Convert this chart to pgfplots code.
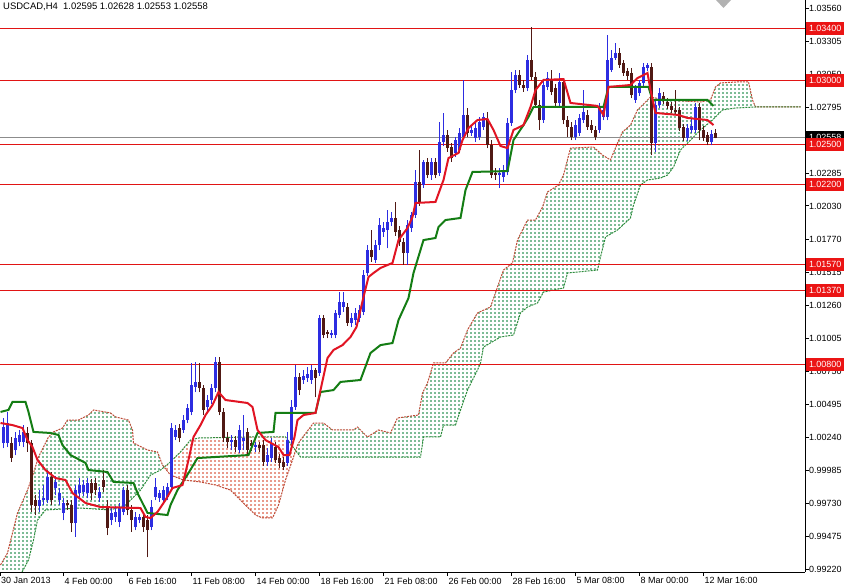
\documentclass[border=0pt]{standalone}
\usepackage{fontspec}
\setmainfont{Liberation Sans}
\usepackage{pgfplots}
\pgfplotsset{compat=1.18}
\usepackage{pgfplotstable}
\definecolor{bullc}{RGB}{45,45,225}
\definecolor{bearo}{RGB}{80,25,20}
\definecolor{tenk}{RGB}{225,20,35}
\definecolor{kij}{RGB}{20,125,20}
\definecolor{spa}{RGB}{190,75,55}
\definecolor{spb}{RGB}{45,140,60}
\definecolor{cldg}{RGB}{125,188,150}
\definecolor{cldr}{RGB}{232,155,140}
\definecolor{lvl}{RGB}{225,20,20}
\definecolor{labred}{RGB}{235,20,20}
\definecolor{curg}{RGB}{140,140,140}
\pgfplotsset{candle/.style={only marks, mark=none, mark size=0pt, mark options={draw=none, fill=none}, forget plot}}
\pgfplotstableread{
i o h l c
-15 1.00195 1.00389 1.00156 1.00319
-14 1.00195 1.00436 1.00164 1.00350
-13 1.00195 1.00242 1.00049 1.00079
-12 1.00141 1.00281 1.00102 1.00234
-11 1.00203 1.00296 1.00172 1.00257
-10 1.00203 1.00334 1.00164 1.00281
-9 1.00273 1.00319 1.00126 1.00195
-8 1.00195 1.00218 0.99662 0.99715
-7 0.99754 0.99792 0.99638 0.99708
-6 0.99708 0.99831 0.99662 0.99754
-5 0.99754 0.99870 0.99715 0.99769
-4 0.99754 0.99986 0.99731 0.99932
-3 0.99932 0.99971 0.99715 0.99754
-2 0.99847 0.99940 0.99792 0.99894
-1 0.99754 0.99847 0.99715 0.99808
0 0.99654 0.99769 0.99599 0.99731
1 0.99731 0.99754 0.99677 0.99715
2 0.99715 0.99754 0.99507 0.99576
3 0.99576 0.99870 0.99468 0.99831
4 0.99808 0.99924 0.99769 0.99870
5 0.99816 0.99909 0.99785 0.99870
6 0.99808 0.99924 0.99769 0.99886
7 0.99886 0.99916 0.99754 0.99808
8 0.99886 0.99924 0.99792 0.99831
9 0.99769 0.99855 0.99739 0.99816
10 0.99909 0.99986 0.99816 0.99855
11 0.99700 0.99754 0.99483 0.99537
12 0.99599 0.99692 0.99560 0.99654
13 0.99623 0.99708 0.99584 0.99662
14 0.99584 0.99731 0.99545 0.99700
15 0.99662 0.99855 0.99638 0.99831
16 0.99831 0.99870 0.99638 0.99677
17 0.99677 0.99715 0.99507 0.99599
18 0.99545 0.99662 0.99522 0.99623
19 0.99599 0.99646 0.99576 0.99623
20 0.99623 0.99662 0.99507 0.99545
21 0.99599 0.99638 0.99313 0.99522
22 0.99545 0.99754 0.99522 0.99700
23 0.99777 0.99924 0.99754 0.99855
24 0.99769 0.99831 0.99739 0.99808
25 0.99754 0.99863 0.99723 0.99831
26 0.99777 0.99886 0.99754 0.99855
27 0.99855 1.00350 0.99831 1.00311
28 1.00242 1.00334 1.00218 1.00296
29 1.00311 1.00342 1.00203 1.00234
30 1.00296 1.00412 1.00273 1.00373
31 1.00373 1.00497 1.00350 1.00466
32 1.00436 1.00815 1.00412 1.00644
33 1.00629 1.00823 1.00590 1.00668
34 1.00668 1.00815 1.00590 1.00621
35 1.00621 1.00644 1.00412 1.00451
36 1.00474 1.00566 1.00436 1.00528
37 1.00528 1.00652 1.00497 1.00621
38 1.00621 1.00861 1.00590 1.00823
39 1.00823 1.00861 1.00412 1.00436
40 1.00436 1.00466 1.00203 1.00234
41 1.00234 1.00281 1.00156 1.00203
42 1.00203 1.00257 1.00141 1.00218
43 1.00218 1.00250 1.00126 1.00164
44 1.00141 1.00334 1.00118 1.00296
45 1.00210 1.00412 1.00141 1.00234
46 1.00281 1.00311 1.00102 1.00141
47 1.00195 1.00218 1.00133 1.00172
48 1.00164 1.00203 1.00126 1.00179
49 1.00179 1.00203 1.00126 1.00156
50 1.00179 1.00218 1.00018 1.00049
51 1.00049 1.00156 1.00018 1.00102
52 1.00079 1.00234 1.00049 1.00195
53 1.00164 1.00203 1.00041 1.00064
54 1.00079 1.00110 1.00002 1.00041
55 1.00049 1.00087 0.99986 1.00010
56 1.00041 1.00281 1.00018 1.00218
57 1.00218 1.00528 1.00187 1.00474
58 1.00474 1.00799 1.00451 1.00706
59 1.00706 1.00737 1.00566 1.00605
60 1.00683 1.00760 1.00652 1.00714
61 1.00698 1.00784 1.00668 1.00729
62 1.00683 1.00799 1.00652 1.00760
63 1.00760 1.00776 1.00551 1.00698
64 1.00737 1.01186 1.00714 1.01163
65 1.01163 1.01186 1.01008 1.01031
66 1.01055 1.01070 1.01008 1.01039
67 1.01031 1.01070 1.01008 1.01047
68 1.01031 1.01225 1.01008 1.01202
69 1.01186 1.01364 1.01163 1.01287
70 1.01248 1.01364 1.01210 1.01287
71 1.01248 1.01279 1.01101 1.01124
72 1.01124 1.01202 1.01093 1.01163
73 1.01147 1.01240 1.01108 1.01202
74 1.01163 1.01263 1.01132 1.01225
75 1.01210 1.01534 1.01186 1.01495
76 1.01511 1.01727 1.01488 1.01689
77 1.01689 1.01844 1.01597 1.01635
78 1.01612 1.01766 1.01589 1.01727
79 1.01727 1.01937 1.01689 1.01882
80 1.01829 1.01906 1.01790 1.01859
81 1.01844 1.01999 1.01704 1.01906
82 1.01906 1.01984 1.01875 1.01937
83 1.01937 1.02061 1.01798 1.01829
84 1.01844 1.01875 1.01720 1.01751
85 1.01751 1.01782 1.01573 1.01666
86 1.01666 1.01921 1.01573 1.01882
87 1.01859 1.01984 1.01829 1.01960
88 1.01960 1.02308 1.01937 1.02216
89 1.02216 1.02463 1.02030 1.02061
90 1.02192 1.02386 1.02169 1.02371
91 1.02371 1.02401 1.02246 1.02269
92 1.02269 1.02401 1.02231 1.02371
93 1.02371 1.02401 1.02246 1.02269
94 1.02285 1.02680 1.02262 1.02525
95 1.02525 1.02750 1.02494 1.02579
96 1.02579 1.02618 1.02448 1.02478
97 1.02486 1.02517 1.02371 1.02401
98 1.02440 1.02564 1.02409 1.02540
99 1.02463 1.02633 1.02440 1.02595
100 1.02564 1.03005 1.02540 1.02734
101 1.02734 1.02788 1.02564 1.02595
102 1.02595 1.02656 1.02572 1.02618
103 1.02556 1.02672 1.02525 1.02633
104 1.02564 1.02719 1.02540 1.02680
105 1.02641 1.02750 1.02618 1.02719
106 1.02695 1.02758 1.02478 1.02501
107 1.02501 1.02540 1.02246 1.02269
108 1.02285 1.02324 1.02231 1.02269
109 1.02269 1.02324 1.02169 1.02285
110 1.02254 1.02347 1.02216 1.02293
111 1.02293 1.02711 1.02269 1.02672
112 1.02672 1.03067 1.02649 1.02927
113 1.02927 1.03082 1.02904 1.03043
114 1.03043 1.03082 1.02943 1.02966
115 1.02966 1.03005 1.02912 1.02943
116 1.02943 1.03198 1.02919 1.03160
117 1.03160 1.03415 1.03005 1.03028
118 1.03028 1.03067 1.02788 1.02811
119 1.02811 1.02850 1.02618 1.02695
120 1.02695 1.03005 1.02672 1.02966
121 1.02951 1.03067 1.02927 1.03020
122 1.03005 1.03082 1.02888 1.02912
123 1.02943 1.02974 1.02804 1.02827
124 1.02827 1.03059 1.02804 1.02990
125 1.02990 1.03020 1.02664 1.02695
126 1.02695 1.02727 1.02564 1.02641
127 1.02641 1.02680 1.02540 1.02564
128 1.02564 1.02695 1.02540 1.02656
129 1.02595 1.02742 1.02572 1.02711
130 1.02695 1.02927 1.02672 1.02758
131 1.02734 1.02773 1.02618 1.02641
132 1.02656 1.02695 1.02595 1.02618
133 1.02618 1.02649 1.02540 1.02564
134 1.02618 1.02827 1.02595 1.02796
135 1.02719 1.02804 1.02695 1.02773
136 1.02719 1.03353 1.02695 1.03160
137 1.03082 1.03237 1.03067 1.03175
138 1.03175 1.03291 1.03160 1.03214
139 1.03214 1.03252 1.03098 1.03121
140 1.03137 1.03160 1.03036 1.03059
141 1.03074 1.03098 1.03005 1.03036
142 1.03059 1.03098 1.02865 1.02888
143 1.02850 1.02966 1.02827 1.02943
144 1.02904 1.03005 1.02881 1.02982
145 1.02982 1.03137 1.02959 1.03106
146 1.03098 1.03137 1.03074 1.03121
147 1.03106 1.03137 1.02424 1.02517
148 1.02517 1.02850 1.02448 1.02811
149 1.02811 1.02943 1.02788 1.02904
150 1.02881 1.02912 1.02819 1.02842
151 1.02835 1.02865 1.02780 1.02804
152 1.02804 1.02835 1.02750 1.02773
153 1.02773 1.02927 1.02742 1.02758
154 1.02773 1.02796 1.02610 1.02633
155 1.02641 1.02664 1.02532 1.02556
156 1.02556 1.02664 1.02532 1.02633
157 1.02618 1.02711 1.02595 1.02649
158 1.02618 1.02827 1.02595 1.02796
159 1.02796 1.02827 1.02540 1.02618
160 1.02618 1.02649 1.02532 1.02556
161 1.02579 1.02603 1.02501 1.02525
162 1.02525 1.02618 1.02501 1.02587
163 1.02595 1.02628 1.02553 1.02558
}\candles
\begin{document}
\begin{tikzpicture}
\begin{axis}[
  at={(0bp,15bp)}, anchor=south west,
  scale only axis, width=805bp, height=572bp,
  xmin=-15.875, xmax=185.375, ymin=0.99197, ymax=1.03624,
  every non boxed x axis/.style={}, every non boxed y axis/.style={},
  axis x line=bottom, axis y line=right,
  axis line style={black, line width=1bp, -},
  x axis line style={yshift=-0.5bp}, y axis line style={xshift=0.5bp},
  xtick align=outside, ytick align=outside, major tick length=4bp,
  tick style={black, line width=1bp},
  xtick={-15.875,0,16,32,48,64,80,96,112,128,144,160},
  xticklabels={30 Jan 2013,4 Feb 00:00,6 Feb 16:00,11 Feb 08:00,14 Feb 00:00,18 Feb 16:00,21 Feb 08:00,26 Feb 00:00,28 Feb 16:00,5 Mar 08:00,8 Mar 00:00,12 Mar 16:00},
  ytick={1.0356,1.03305,1.0305,1.02795,1.02285,1.0203,1.0177,1.01515,1.0126,1.01005,1.0075,1.00495,1.0024,0.99985,0.9973,0.99475,0.9922},
  yticklabels={1.03560,1.03305,1.03050,1.02795,1.02285,1.02030,1.01770,1.01515,1.01260,1.01005,1.00750,1.00495,1.00240,0.99985,0.99730,0.99475,0.99220},
  xticklabel style={anchor=north west, inner sep=0pt, xshift=1bp, yshift=-1.5bp, font=\fontsize{9}{10}\selectfont},
  yticklabel style={anchor=west, inner sep=0pt, font=\fontsize{9}{10}\selectfont},
  scaled y ticks=false, scaled x ticks=false,
]
% Kumo: region between Senkou span A and span B (bullish green, bearish red)
\addplot[fill=cldg, draw=none, forget plot] coordinates {
(-15.75,0.99251) (-14,0.99344) (-11.5,0.99654) (-9,0.99831) (-7.5,0.99963) (-6.25,1.00087) (-5,1.00164) (-3.75,1.00242) (-2.5,1.00281) (-0.25,1.00311) (1,1.00373) (3.75,1.00373) (6.25,1.00412) (7.5,1.00451) (11.75,1.00428) (13,1.00397) (16.25,1.00373) (17.25,1.00296) (17.5,1.00195) (21,1.00141) (23.5,1.00126) (24.75,1.00025) (25.16,1.00009)
(24.25,0.99986) (21.75,0.99947) (19.25,0.99831) (15.5,0.99715) (11.75,0.99677) (4.25,0.99692) (-4.5,0.99677) (-6.5,0.99599) (-7.5,0.99444) (-8.75,0.99290) (-10.75,0.99174) (-15.75,0.99135)} -- cycle;
\addplot[fill=cldr, draw=none, forget plot] coordinates {
(25.16,1.00009) (26.75,0.99947) (30,0.99909) (34.25,0.99894) (38,0.99870) (41.75,0.99831) (45.5,0.99715) (48,0.99638) (49.75,0.99615) (52.25,0.99615) (53.75,0.99715) (55.5,0.99909) (57.25,1.00064) (58.04,1.00137)
(55.5,1.00242) (46.75,1.00242) (33.75,1.00234) (31.75,1.00218) (29.25,1.00126) (26.75,1.00049)} -- cycle;
\addplot[fill=cldg, draw=none, forget plot] coordinates {
(58.04,1.00137) (58.5,1.00179) (59.25,1.00218) (62.5,1.00350) (65,1.00350) (67.25,1.00296) (72.5,1.00296) (73.5,1.00319) (76,1.00242) (78.75,1.00296) (81.75,1.00273) (83.5,1.00389) (88.75,1.00412) (89.75,1.00582) (91,1.00660) (92.5,1.00815) (95.5,1.00815) (97.5,1.00892) (99.25,1.00930) (101,1.01070) (103.5,1.01202) (106.75,1.01248) (108.5,1.01403) (110,1.01534) (112.25,1.01589) (113.5,1.01766) (116,1.01921) (118,1.01921) (119.75,1.02022) (121,1.02138) (123.75,1.02192) (125,1.02269) (126.75,1.02478) (132.5,1.02486) (134.75,1.02424) (136.75,1.02386) (138.5,1.02517) (139.75,1.02603) (141.75,1.02656) (143.5,1.02773) (146.75,1.02873) (150.5,1.02850) (159.25,1.02835) (161.75,1.02850) (163,1.02951) (164.25,1.02982) (168.5,1.02990) (171.25,1.02990) (172.25,1.02850) (173,1.02796)
(168,1.02788) (164.75,1.02773) (162.25,1.02695) (159.25,1.02618) (156.75,1.02540) (154.25,1.02463) (152.5,1.02331) (151,1.02269) (149.25,1.02246) (146,1.02231) (144.25,1.02192) (142.5,1.02037) (141.75,1.01937) (138.5,1.01844) (135.5,1.01790) (134.25,1.01635) (133.5,1.01534) (126,1.01511) (125,1.01395) (120,1.01364) (118.5,1.01279) (116,1.01248) (114.25,1.01202) (112.5,1.01031) (109.25,1.01016) (105,1.00938) (104.25,1.00815) (103.5,1.00760) (101,1.00605) (99.25,1.00451) (98,1.00334) (95,1.00334) (94.25,1.00242) (90,1.00242) (89.25,1.00087) (59.25,1.00087)} -- cycle;
% white mask turning the solid kumo into dotted vertical hatching (one column per bar)
\pgfplotsinvokeforeach{0,...,200}{\fill[white] ([xshift=#1*4bp]rel axis cs:0,0) rectangle ([xshift=#1*4bp+2bp]rel axis cs:0,1);}
\pgfplotsinvokeforeach{0,...,142}{\fill[white] ([yshift=#1*4bp]rel axis cs:0,0) rectangle ([yshift=#1*4bp+2bp]rel axis cs:1,0);}
% Senkou span lines
\addplot[spa, line width=1bp, dash pattern=on 2bp off 1bp, forget plot] coordinates {
(-15.75,0.99251) (-14,0.99344) (-11.5,0.99654) (-9,0.99831) (-7.5,0.99963) (-6.25,1.00087) (-5,1.00164) (-3.75,1.00242) (-2.5,1.00281) (-0.25,1.00311) (1,1.00373) (3.75,1.00373) (6.25,1.00412) (7.5,1.00451) (11.75,1.00428) (13,1.00397) (16.25,1.00373) (17.25,1.00296) (17.5,1.00195) (21,1.00141) (23.5,1.00126) (24.75,1.00025) (26.75,0.99947) (30,0.99909) (34.25,0.99894) (38,0.99870) (41.75,0.99831) (45.5,0.99715) (48,0.99638) (49.75,0.99615) (52.25,0.99615) (53.75,0.99715) (55.5,0.99909) (57.25,1.00064) (58.5,1.00179) (59.25,1.00218) (62.5,1.00350) (65,1.00350) (67.25,1.00296) (72.5,1.00296) (73.5,1.00319) (76,1.00242) (78.75,1.00296) (81.75,1.00273) (83.5,1.00389) (88.75,1.00412) (89.75,1.00582) (91,1.00660) (92.5,1.00815) (95.5,1.00815) (97.5,1.00892) (99.25,1.00930) (101,1.01070) (103.5,1.01202) (106.75,1.01248) (108.5,1.01403) (110,1.01534) (112.25,1.01589) (113.5,1.01766) (116,1.01921) (118,1.01921) (119.75,1.02022) (121,1.02138) (123.75,1.02192) (125,1.02269) (126.75,1.02478) (132.5,1.02486) (134.75,1.02424) (136.75,1.02386) (138.5,1.02517) (139.75,1.02603) (141.75,1.02656) (143.5,1.02773) (146.75,1.02873) (150.5,1.02850) (159.25,1.02835) (161.75,1.02850) (163,1.02951) (164.25,1.02982) (168.5,1.02990) (171.25,1.02990) (172.25,1.02850) (173,1.02796) (184.25,1.02796)};
\addplot[spb, line width=1bp, dash pattern=on 2bp off 1bp, forget plot] coordinates {
(-15.75,0.99135) (-10.75,0.99174) (-8.75,0.99290) (-7.5,0.99444) (-6.5,0.99599) (-4.5,0.99677) (4.25,0.99692) (11.75,0.99677) (15.5,0.99715) (19.25,0.99831) (21.75,0.99947) (24.25,0.99986) (26.75,1.00049) (29.25,1.00126) (31.75,1.00218) (33.75,1.00234) (46.75,1.00242) (55.5,1.00242) (59.25,1.00087) (89.25,1.00087) (90,1.00242) (94.25,1.00242) (95,1.00334) (98,1.00334) (99.25,1.00451) (101,1.00605) (103.5,1.00760) (104.25,1.00815) (105,1.00938) (109.25,1.01016) (112.5,1.01031) (114.25,1.01202) (116,1.01248) (118.5,1.01279) (120,1.01364) (125,1.01395) (126,1.01511) (133.5,1.01534) (134.25,1.01635) (135.5,1.01790) (138.5,1.01844) (141.75,1.01937) (142.5,1.02037) (144.25,1.02192) (146,1.02231) (149.25,1.02246) (151,1.02269) (152.5,1.02331) (154.25,1.02463) (156.75,1.02540) (159.25,1.02618) (162.25,1.02695) (164.75,1.02773) (168,1.02788) (173,1.02796) (184.25,1.02796)};
% horizontal levels (placed on even pixel rows)
\addplot[lvl, line width=1bp, forget plot] coordinates {(-15.875,1.03403) (185.375,1.03403)};
\addplot[lvl, line width=1bp, forget plot] coordinates {(-15.875,1.03001) (185.375,1.03001)};
\addplot[lvl, line width=1bp, forget plot] coordinates {(-15.875,1.02506) (185.375,1.02506)};
\addplot[lvl, line width=1bp, forget plot] coordinates {(-15.875,1.02196) (185.375,1.02196)};
\addplot[lvl, line width=1bp, forget plot] coordinates {(-15.875,1.01577) (185.375,1.01577)};
\addplot[lvl, line width=1bp, forget plot] coordinates {(-15.875,1.01376) (185.375,1.01376)};
\addplot[lvl, line width=1bp, forget plot] coordinates {(-15.875,1.00803) (185.375,1.00803)};
\addplot[curg, line width=1bp, forget plot] coordinates {(-15.875,1.02560) (185.375,1.02560)};
% bull candles
\addplot[candle, error bars/.cd, y dir=plus, y explicit, error mark=none, error bar style={draw=bullc, line width=1bp}]
  table[x expr={\thisrow{c}>=\thisrow{o} ? \thisrow{i} : nan}, y=l, y error expr={\thisrow{h}-\thisrow{l}}] {\candles};
\addplot[candle, error bars/.cd, y dir=plus, y explicit, error mark=none, error bar style={draw=bullc, line width=3bp}]
  table[x expr={\thisrow{c}>=\thisrow{o} ? \thisrow{i} : nan}, y=o, y error expr={\thisrow{c}-\thisrow{o}}] {\candles};
% bear candles
\addplot[candle, error bars/.cd, y dir=plus, y explicit, error mark=none, error bar style={draw=bearo, line width=1bp}]
  table[x expr={\thisrow{c}<\thisrow{o} ? \thisrow{i} : nan}, y=l, y error expr={\thisrow{h}-\thisrow{l}}] {\candles};
\addplot[candle, error bars/.cd, y dir=plus, y explicit, error mark=none, error bar style={draw=bearo, line width=3bp}]
  table[x expr={\thisrow{c}<\thisrow{o} ? \thisrow{i} : nan}, y=c, y error expr={\thisrow{o}-\thisrow{c}}] {\candles};
% kijun
\addplot[kij, line width=2bp, forget plot] coordinates {
(-15.75,1.00436) (-13.75,1.00451) (-12.75,1.00513) (-9.5,1.00513) (-8.75,1.00436) (-7.5,1.00281) (-3.25,1.00273) (-1.25,1.00257) (-0.25,1.00179) (1.75,1.00102) (5.5,1.00041) (6.25,0.99986) (11,0.99971) (12.5,0.99894) (17.5,0.99886) (18.5,0.99808) (21,0.99654) (26,0.99638) (26.75,0.99715) (28.5,0.99831) (31.25,0.99963) (33.5,1.00079) (46.25,1.00102) (48.5,1.00273) (52.5,1.00281) (53,1.00428) (63,1.00428) (64.25,1.00590) (67.5,1.00605) (69.25,1.00668) (74.25,1.00683) (76.75,1.00892) (79.25,1.00953) (82.25,1.00969) (83.75,1.01147) (86.25,1.01317) (87.5,1.01511) (90,1.01766) (93,1.01782) (93.75,1.01867) (95.5,1.01921) (99.25,1.01937) (100.5,1.02153) (102.25,1.02293) (111,1.02300) (112.5,1.02540) (115,1.02656) (116.25,1.02719) (117.5,1.02796) (135,1.02796) (136.25,1.02951) (146.25,1.02951) (147.25,1.02850) (161,1.02850) (162.5,1.02804)};
% tenkan
\addplot[tenk, line width=2bp, forget plot] coordinates {
(-15.75,1.00350) (-12.75,1.00334) (-10.25,1.00311) (-9,1.00218) (-7.75,1.00164) (-6.5,1.00064) (-4.5,0.99986) (-2,0.99924) (0.5,0.99909) (2.25,0.99808) (5.5,0.99731) (9.25,0.99700) (19.25,0.99692) (20.5,0.99623) (21.75,0.99615) (23.5,0.99662) (25.5,0.99754) (27.25,0.99847) (29.75,0.99870) (31.25,1.00064) (32.5,1.00242) (34.25,1.00334) (35.5,1.00412) (37.25,1.00489) (38.75,1.00590) (40.5,1.00528) (46,1.00505) (47.25,1.00474) (48.5,1.00296) (50.5,1.00218) (53.75,1.00164) (55,1.00102) (56.5,1.00102) (57.75,1.00242) (58.5,1.00373) (60,1.00412) (63,1.00428) (64.25,1.00605) (66,1.00853) (67.5,1.00915) (69.75,1.00953) (71.75,1.01016) (73.25,1.01093) (75,1.01325) (76.25,1.01480) (77.5,1.01511) (79.25,1.01550) (82.25,1.01589) (83.75,1.01766) (86,1.01859) (87.25,1.01945) (88,1.02053) (93,1.02061) (95,1.02231) (96.25,1.02401) (98.75,1.02440) (99.75,1.02540) (101.25,1.02633) (103.5,1.02695) (106,1.02703) (107.5,1.02618) (109.25,1.02494) (111,1.02478) (112.5,1.02618) (115,1.02656) (116.75,1.02796) (118,1.02927) (120,1.03005) (125,1.03012) (126.75,1.02827) (133.5,1.02804) (135,1.02734) (136.25,1.02951) (141.75,1.02966) (143.5,1.03020) (146,1.03059) (146.75,1.02927) (148,1.02750) (153.75,1.02734) (156,1.02711) (161,1.02695) (162.5,1.02656)};
\coordinate (cur) at (axis cs:185.375,1.02560);
\coordinate (l1) at (axis cs:185.375,1.03403);
\coordinate (l2) at (axis cs:185.375,1.03001);
\coordinate (l3) at (axis cs:185.375,1.02506);
\coordinate (l4) at (axis cs:185.375,1.02196);
\coordinate (l5) at (axis cs:185.375,1.01577);
\coordinate (l6) at (axis cs:185.375,1.01376);
\coordinate (l7) at (axis cs:185.375,1.00803);
\end{axis}
\node[fill=black, text=white, anchor=west, inner sep=0pt, minimum width=38bp, minimum height=13bp, font=\fontsize{9}{10}\selectfont] at ([xshift=1bp]cur) {1.02558};
\foreach \n/\t in {l1/1.03400,l2/1.03000,l3/1.02500,l4/1.02200,l5/1.01570,l6/1.01370,l7/1.00800}
  \node[fill=labred, text=white, anchor=west, inner sep=0pt, minimum width=38bp, minimum height=13bp, font=\fontsize{9}{10}\selectfont] at ([xshift=1bp]\n) {\t};
\node[anchor=west, inner sep=0pt, font=\fontsize{9.5}{11}\selectfont] at (3bp,580bp) {USDCAD,H4\ \ 1.02595 1.02628 1.02553 1.02558};
\fill[gray!60] (716bp,587bp) -- (731bp,587bp) -- (723.5bp,579bp) -- cycle;
\pgfresetboundingbox
\useasboundingbox (0,0) rectangle (844bp,587bp);
\end{tikzpicture}
\end{document}
